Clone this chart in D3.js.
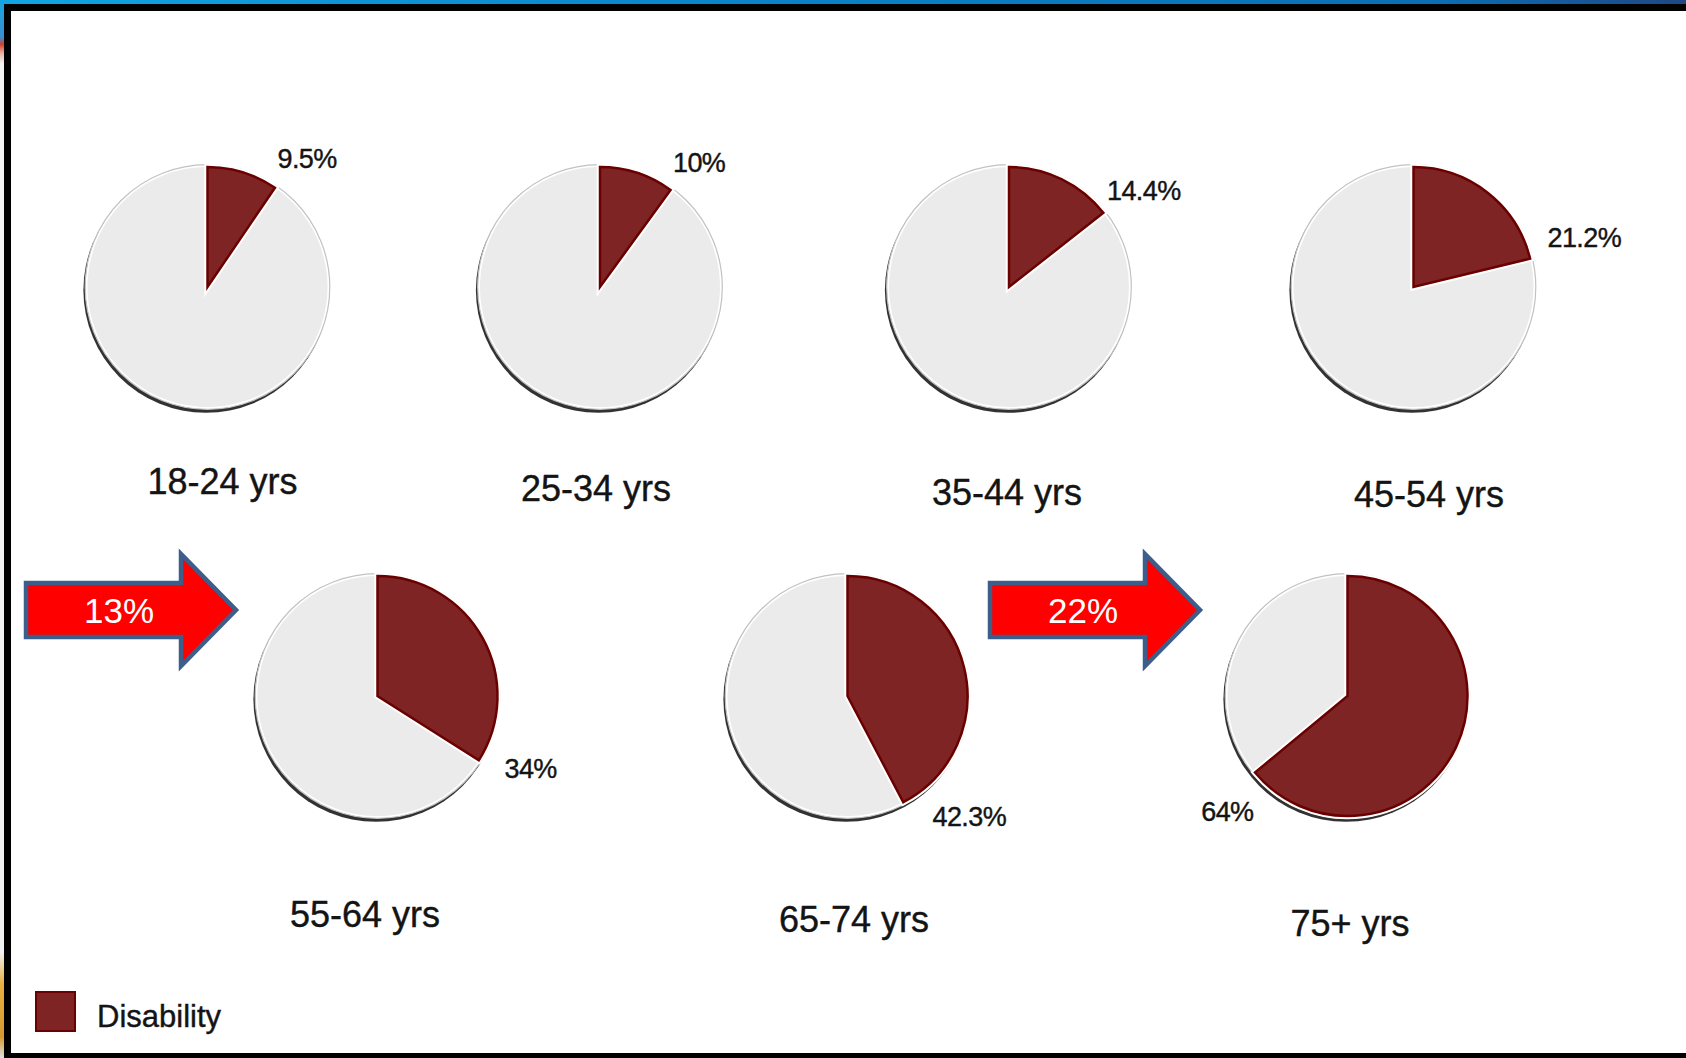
<!DOCTYPE html>
<html>
<head>
<meta charset="utf-8">
<script src="https://cdn.jsdelivr.net/npm/d3@7"></script>
<style>
  html, body { margin: 0; padding: 0; background: #fff; }
  svg { display: block; }
  text { font-family: "Liberation Sans", Arial, Helvetica, sans-serif; }
</style>
</head>
<body>
<svg id="chart" width="1686" height="1058"></svg>
<script>
// Share of each age group reporting a disability
const ageGroups = ["18-24 yrs", "25-34 yrs", "35-44 yrs", "45-54 yrs", "55-64 yrs", "65-74 yrs", "75+ yrs"];
const disabilityPct = [9.5, 10, 14.4, 21.2, 34, 42.3, 64];
const valueLabels = ["9.5%", "10%", "14.4%", "21.2%", "34%", "42.3%", "64%"];
// Jumps between consecutive groups, shown as arrows
const changeLabels = ["13%", "22%"];
const legendLabels = ["Disability"];

// ---- layout ----
const W = 1686, H = 1058;
const R = 120;
const pieCenters = [
  [207.5, 287], [600, 287], [1009, 287], [1413.5, 287],
  [377.5, 696], [847.5, 696], [1347.5, 696]
];
// value label offset from pie centre + anchor
const valueOffsets = [
  [70, -119, "start"], [73, -115, "start"], [98, -87, "start"], [134, -40, "start"],
  [127, 82, "start"], [85, 130, "start"], [-94, 125, "end"]
];
// age label offset (centre x, baseline) from pie centre
const ageOffsets = [
  [15, 207], [-4, 214], [-2, 218], [15.5, 220],
  [-12.5, 231], [6.5, 236], [2.5, 240]
];
const arrowSpecs = [ { x0: 26, yc: 610 }, { x0: 990, yc: 610 } ];

const COLORS = {
  disability: "#7e2424",
  disabilityEdge: "#6a0000",
  rest: "#ebebeb",
  ring: "#c2c2c2",
  shadow: "#333",
  text: "#141414",
  arrowFill: "#ff0000",
  arrowEdge: "#3d5e8b"
};

const svg = d3.select("#chart");
const defs = svg.append("defs");

// slide frame
const topGrad = defs.append("linearGradient").attr("id", "topbar").attr("x1", 0).attr("x2", 1);
topGrad.append("stop").attr("offset", 0).attr("stop-color", "#12a4e2");
topGrad.append("stop").attr("offset", 0.45).attr("stop-color", "#0a83c8");
topGrad.append("stop").attr("offset", 0.85).attr("stop-color", "#0a6fb5");
topGrad.append("stop").attr("offset", 1).attr("stop-color", "#1f4785");

const sideGrad = defs.append("linearGradient").attr("id", "sidebar").attr("x1", 0).attr("x2", 0).attr("y1", 0).attr("y2", 1);
[[0, "#16a6e0"], [0.035, "#3a8fd0"], [0.042, "#d04030"], [0.05, "#e8b0a0"], [0.06, "#f4f4f4"],
 [0.9, "#f2f2f2"], [0.93, "#e8b040"], [0.98, "#d49a30"], [1, "#e0e0e0"]]
  .forEach(([o, c]) => sideGrad.append("stop").attr("offset", o).attr("stop-color", c));

const blur = defs.append("filter").attr("id", "soft").attr("x", "-10%").attr("y", "-10%").attr("width", "120%").attr("height", "120%");
blur.append("feGaussianBlur").attr("stdDeviation", 0.5);

svg.append("rect").attr("x", 0).attr("y", 0).attr("width", W).attr("height", H).attr("fill", "#fff");
svg.append("rect").attr("x", 0).attr("y", 0).attr("width", 4).attr("height", H).attr("fill", "url(#sidebar)");
svg.append("rect").attr("x", 0).attr("y", 0).attr("width", W).attr("height", 4).attr("fill", "url(#topbar)");
svg.append("rect").attr("x", 4).attr("y", 4).attr("width", W - 4).attr("height", 7).attr("fill", "#000");
svg.append("rect").attr("x", 4).attr("y", 4).attr("width", 7).attr("height", H - 4).attr("fill", "#000");
svg.append("rect").attr("x", 4).attr("y", H - 5).attr("width", W - 4).attr("height", 5).attr("fill", "#000");

// ---- pies ----
const pie = d3.pie().sort(null).value(d => d.v);
const arc = d3.arc().innerRadius(0).outerRadius(R);

disabilityPct.forEach((pct, i) => {
  const [cx, cy] = pieCenters[i];
  const g = svg.append("g").attr("transform", `translate(${cx},${cy})`);

  // drop shadow and outline ring
  g.append("circle").attr("cx", -1.5).attr("cy", 3.2).attr("r", R + 2.6)
    .attr("fill", COLORS.shadow).attr("filter", "url(#soft)");
  g.append("circle").attr("r", R + 2.3).attr("fill", "#fff")
    .attr("stroke", COLORS.ring).attr("stroke-width", 1.2);

  const slices = pie([{ k: "disability", v: pct }, { k: "rest", v: 100 - pct }]);

  g.append("path").attr("d", arc(slices[1])).attr("fill", COLORS.rest);
  // white gap around the highlighted slice
  g.append("path").attr("d", arc(slices[0]))
    .attr("fill", "#fff").attr("stroke", "#fff").attr("stroke-width", 6.5)
    .attr("stroke-linejoin", "miter");
  g.append("path").attr("d", arc(slices[0]))
    .attr("fill", COLORS.disability).attr("stroke", COLORS.disabilityEdge)
    .attr("stroke-width", 2.5).attr("stroke-linejoin", "miter");

  const [vx, vy, anchor] = valueOffsets[i];
  g.append("text").attr("x", vx).attr("y", vy).attr("text-anchor", anchor)
    .attr("font-size", 27).attr("letter-spacing", -0.6).attr("fill", COLORS.text)
    .attr("stroke", COLORS.text).attr("stroke-width", 0.4)
    .text(valueLabels[i]);

  const [ax, ay] = ageOffsets[i];
  g.append("text").attr("x", ax).attr("y", ay).attr("text-anchor", "middle")
    .attr("font-size", 36).attr("fill", COLORS.text)
    .attr("stroke", COLORS.text).attr("stroke-width", 0.4)
    .text(ageGroups[i]);
});

// ---- arrows ----
const arrowLine = d3.line();
arrowSpecs.forEach((a, i) => {
  const shaftLen = 155, headLen = 55, shaftHalf = 27, headHalf = 56;
  const xb = a.x0 + shaftLen, xt = xb + headLen;
  const pts = [
    [a.x0, a.yc - shaftHalf], [xb, a.yc - shaftHalf], [xb, a.yc - headHalf],
    [xt, a.yc], [xb, a.yc + headHalf], [xb, a.yc + shaftHalf], [a.x0, a.yc + shaftHalf]
  ];
  svg.append("path").attr("d", arrowLine(pts) + "Z")
    .attr("fill", COLORS.arrowFill).attr("stroke", COLORS.arrowEdge)
    .attr("stroke-width", 4.5).attr("stroke-linejoin", "miter");
  svg.append("text").attr("x", a.x0 + 93).attr("y", a.yc + 12.5)
    .attr("text-anchor", "middle").attr("font-size", 35).attr("fill", "#fff")
    .text(changeLabels[i]);
});

// ---- legend ----
const legend = svg.append("g").attr("transform", "translate(35,991)");
legendLabels.forEach((lab, i) => {
  legend.append("rect").attr("x", 1).attr("y", 1).attr("width", 39).attr("height", 39)
    .attr("fill", COLORS.disability).attr("stroke", COLORS.disabilityEdge).attr("stroke-width", 2);
  legend.append("text").attr("x", 62).attr("y", 36)
    .attr("font-size", 31).attr("fill", COLORS.text)
    .attr("stroke", COLORS.text).attr("stroke-width", 0.4).text(lab);
});
</script>
</body>
</html>
